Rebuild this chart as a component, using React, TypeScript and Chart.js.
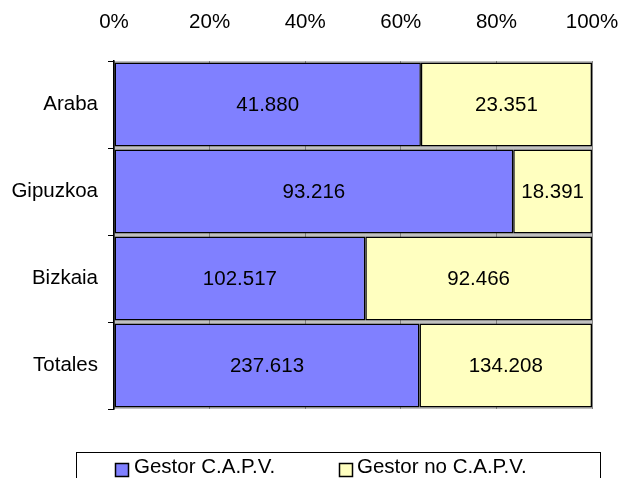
import React, { useEffect, useRef } from "react";
import { Chart, registerables } from "chart.js";

Chart.register(...registerables);

const categories = ["Araba", "Gipuzkoa", "Bizkaia", "Totales"];
const gestorCAPV = [41880, 93216, 102517, 237613];
const gestorNoCAPV = [23351, 18391, 92466, 134208];
const seriesNames = ["Gestor C.A.P.V.", "Gestor no C.A.P.V."];
const seriesColors = ["#8080FF", "#FFFFC0"];
const xTicks = ["0%", "20%", "40%", "60%", "80%", "100%"];

const FONT = "'Liberation Sans', Arial, sans-serif";
const FS = 20.5;

function fmt(v: number): string {
  return String(v).replace(/\B(?=(\d{3})+(?!\d))/g, ".");
}

export default function App() {
  const ref = useRef<HTMLCanvasElement | null>(null);

  useEffect(() => {
    document.body.style.margin = "0";
    const totals = categories.map((_, i) => gestorCAPV[i] + gestorNoCAPV[i]);
    const raw = [gestorCAPV, gestorNoCAPV];
    const pct = raw.map((arr) => arr.map((v, i) => (v / totals[i]) * 100));

    const bgPlugin = {
      id: "bg",
      beforeDraw(chart: any) {
        const { ctx, chartArea } = chart;
        ctx.save();
        ctx.fillStyle = "#C0C0C0";
        ctx.fillRect(chartArea.left, chartArea.top, chartArea.right - chartArea.left, chartArea.bottom - chartArea.top);
        ctx.restore();
      },
    };

    const labelPlugin = {
      id: "labels",
      afterDatasetsDraw(chart: any) {
        const ctx = chart.ctx;
        ctx.save();
        ctx.font = `${FS}px ${FONT}`;
        ctx.fillStyle = "#000";
        ctx.textAlign = "center";
        ctx.textBaseline = "middle";
        chart.data.datasets.forEach((ds: any, di: number) => {
          const meta = chart.getDatasetMeta(di);
          meta.data.forEach((el: any, i: number) => {
            const x = (el.x + el.base) / 2;
            ctx.fillText(fmt(raw[di][i]), x, el.y + 1);
          });
        });
        ctx.restore();
      },
    };

    const legendPlugin = {
      id: "customLegend",
      afterDraw(chart: any) {
        const ctx = chart.ctx;
        ctx.save();
        ctx.strokeStyle = "#000";
        ctx.lineWidth = 1;
        ctx.strokeRect(76.5, 452.5, 524, 40);
        const items = [
          { x: 115, tx: 134 },
          { x: 339, tx: 357 },
        ];
        ctx.font = `${FS}px ${FONT}`;
        ctx.textBaseline = "middle";
        ctx.textAlign = "left";
        ctx.lineWidth = 1.5;
        items.forEach((it, i) => {
          ctx.fillStyle = seriesColors[i];
          ctx.fillRect(it.x + 0.5, 463.5, 13, 13);
          ctx.strokeRect(it.x + 0.5, 463.5, 13, 13);
          ctx.fillStyle = "#000";
          ctx.fillText(seriesNames[i], it.tx, 467);
        });
        ctx.restore();
      },
    };

    const chart = new Chart(ref.current!, {
      type: "bar",
      data: {
        labels: categories,
        datasets: seriesNames.map((name, i) => ({
          label: name,
          data: pct[i],
          backgroundColor: seriesColors[i],
          borderColor: "#000",
          borderWidth: 1.5,
          borderSkipped: false,
          barPercentage: 0.965,
          categoryPercentage: 1,
        })),
      },
      options: {
        indexAxis: "y",
        responsive: false,
        animation: false,
        layout: { padding: { top: 0, left: 0, right: 0, bottom: 69 } },
        plugins: {
          legend: { display: false },
          tooltip: { enabled: false },
        },
        scales: {
          x: {
            position: "top",
            stacked: true,
            min: 0,
            max: 100,
            afterBuildTicks(axis: any) {
              axis.ticks = xTicks.map((_, i) => ({ value: i * 20 }));
            },
            afterFit(scale: any) {
              scale.height = 61;
              scale.paddingRight = 27;
              scale.paddingLeft = 0;
            },
            ticks: {
              callback: (v: any, i: number) => xTicks[i],
              color: "#000",
              font: { family: FONT, size: FS },
              padding: 26,
              maxRotation: 0,
            },
            grid: {
              color: "#808080",
              drawTicks: false,
              tickLength: 0,
            },
            border: { display: false },
          },
          y: {
            stacked: true,
            afterFit(scale: any) {
              scale.width = 114;
            },
            ticks: {
              color: "#000",
              font: { family: FONT, size: FS },
              padding: 10,
            },
            grid: {
              offset: true,
              drawOnChartArea: false,
              color: "#000",
              tickLength: 6,
            },
            border: { display: true, color: "#000", width: 1.5 },
          },
        },
      },
      plugins: [bgPlugin, labelPlugin, legendPlugin],
    });
    return () => chart.destroy();
  }, []);

  return <canvas ref={ref} width={619} height={478} style={{ display: "block" }} />;
}
